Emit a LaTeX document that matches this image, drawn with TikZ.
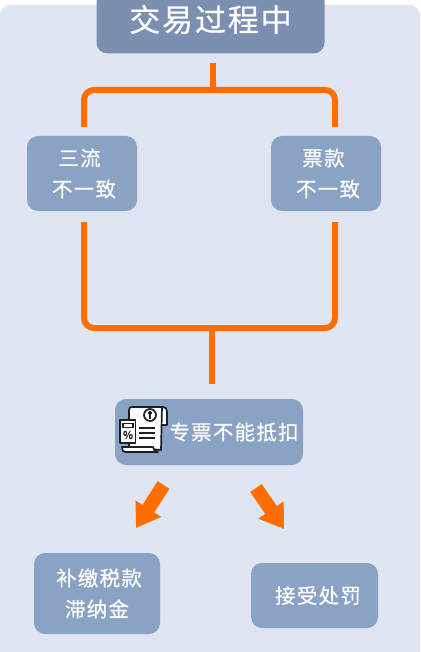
\documentclass[tikz,border=0pt]{standalone}
\usepackage{fontspec}
\usepackage{tikz}
\usetikzlibrary{arrows.meta}
\newfontfamily\cjk[LetterSpace=6,FakeBold=0.6]{Noto Sans CJK SC}
\definecolor{bgpale}{HTML}{DFE5F1}
\definecolor{boxblue}{HTML}{8AA2C3}
\definecolor{headblue}{HTML}{7C8FB0}
\definecolor{linkorange}{HTML}{FF6E00}
\definecolor{iconink}{HTML}{1C1F26}

\begin{document}
\begin{tikzpicture}[
  x=1pt, y=-1pt,
  font=\cjk,
  box/.style={fill=boxblue, rounded corners=11pt, text=white, inner sep=0pt, font=\cjk\fontsize{20.5}{31}\selectfont, align=center},
  link/.style={draw=linkorange, line width=6pt, rounded corners=10pt},
  bigarrow/.style={draw=linkorange, line width=14pt, -{Triangle[length=23pt,width=29pt]}},
  iconpart/.style={draw=iconink, fill=white, line width=1.7pt, line join=round},
  iconline/.style={draw=iconink, line width=1.5pt},
]
\useasboundingbox (0,0) rectangle (420,652);
\clip (0,0) rectangle (420,652);
\fill[bgpale] (0,5) [rounded corners=10pt] -- (420,5) -- (420,670) -- (0,670) -- cycle;

% ---------- boxes ----------
\node[box, fill=headblue, minimum width=228pt, minimum height=68pt, font=\cjk\fontsize{31}{36}\selectfont] (head) at (210.5,19.5) {交易过程中};
\node[box, minimum width=110pt, minimum height=75pt] (sanliu) at (82,173.5) {三流\hspace*{5pt}\\\hspace*{4pt}不一致};
\node[box, minimum width=110pt, minimum height=75pt] (piaokuan) at (326,173.5) {票款\hspace*{5pt}\\\hspace*{4pt}不一致};
\node[box, minimum width=188pt, minimum height=66pt] (zhuanpiao) at (209,432) {\hspace*{50pt}专票不能抵扣};
\node[box, minimum width=126pt, minimum height=81pt] (bujiao) at (97,593.5) {\hspace*{4pt}补缴税款\\滞纳金\hspace*{0pt}};
\node[box, minimum width=127pt, minimum height=65pt] (chufa) at (314.5,595.5) {\hspace*{7pt}接受处罚};

% ---------- connectors ----------
\coordinate (headout) at (213,63);
\coordinate (sanliuin) at (84,127);
\coordinate (piaokuanin) at (335,127);
\draw[link] (headout) -- (213,90);
\draw[link] (sanliuin) -- (84,90) -- (335,90) -- (piaokuanin);

\coordinate (sanliuout) at (84,222);
\coordinate (piaokuanout) at (335,222);
\coordinate (zhuanpiaoin) at (212,384);
\draw[link] (sanliuout) -- (84,328) -- (335,328) -- (piaokuanout);
\draw[link] (212,328) -- (zhuanpiaoin);

\coordinate (leftfrom) at (163.5,485);
\coordinate (leftto) at (136,528);
\coordinate (rightfrom) at (256,488);
\coordinate (rightto) at (284,529);
\draw[bigarrow] (leftfrom) -- (leftto);
\draw[bigarrow] (rightfrom) -- (rightto);

% ---------- receipt icon ----------
\draw[iconpart] (159,407) -- (163,407) .. controls (166,407) and (167,409) .. (167,412) -- (167,425) -- (161,425) -- cycle;
\draw[iconpart] (129,420) -- (129,410) .. controls (129,408) and (130,407) .. (132,407) -- (162,407) -- (161,450) -- (129,447) -- cycle;
\draw[iconpart] (122,447) -- (153,447) .. controls (153,450) and (155,451) .. (158,452) -- (125,452) .. controls (123,452) and (122,450) .. (122,447) -- cycle;
\draw[iconpart] (150,415) circle (6pt);
\draw[iconline] (150,411) -- (150,419);
\draw[iconline] (148,413) -- (152,413);
\foreach \y in {428, 433, 438} {
  \draw[iconline] (139,\y) -- (155,\y);
}
\draw[iconpart] (120,420) rectangle (135.5,443);
\draw[iconline] (123,423.5) rectangle (133,427.5);
\node[inner sep=0pt, text=iconink, font=\cjk\fontsize{11}{11}\selectfont] (percent) at (128,435) {\%};
\end{tikzpicture}
\end{document}
